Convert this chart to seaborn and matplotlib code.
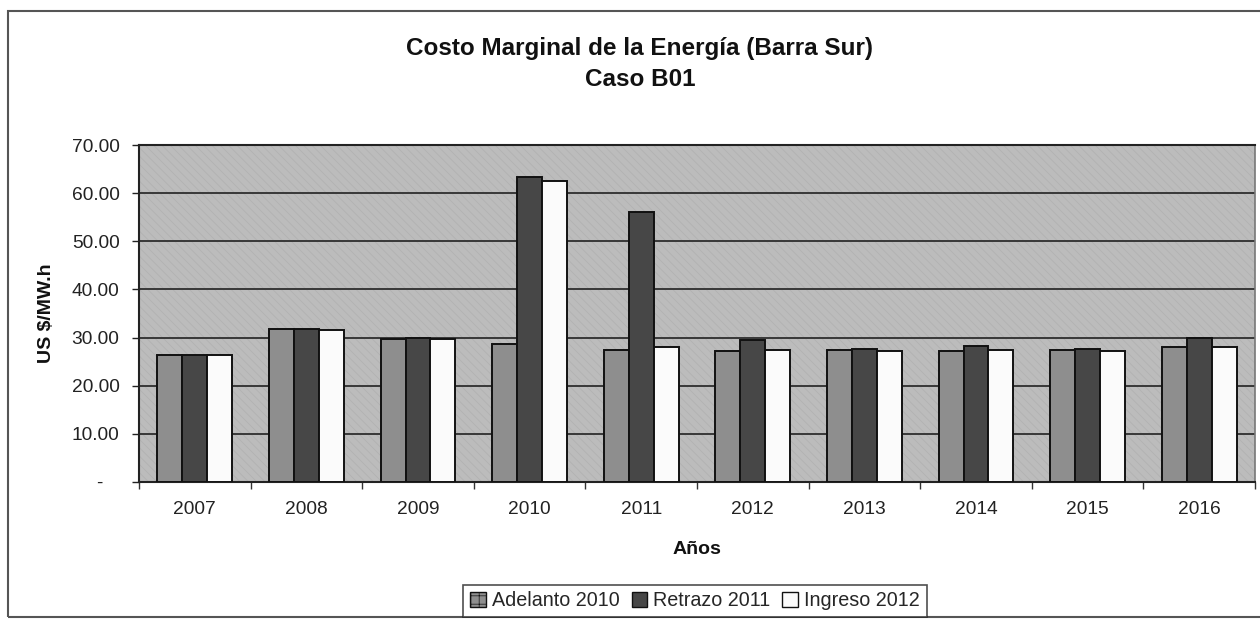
import matplotlib
matplotlib.use("Agg")
import matplotlib.pyplot as plt
import matplotlib.patches as mpatches
import seaborn as sns
import pandas as pd
import numpy as np

# Marginal cost of energy (US $/MW.h), south busbar, case B01
years = ["2007", "2008", "2009", "2010", "2011", "2012", "2013", "2014", "2015", "2016"]
adelanto_2010 = [26.4, 31.7, 29.6, 28.6, 27.4, 27.2, 27.4, 27.3, 27.4, 28.1]
retrazo_2011 = [26.4, 31.7, 30.0, 63.3, 56.0, 29.5, 27.7, 28.3, 27.7, 30.0]
ingreso_2012 = [26.3, 31.6, 29.7, 62.5, 28.1, 27.4, 27.3, 27.4, 27.3, 28.0]
series_names = ["Adelanto 2010", "Retrazo 2011", "Ingreso 2012"]
y_ticks = [0, 10, 20, 30, 40, 50, 60, 70]
y_tick_labels = ["-   ", "10.00", "20.00", "30.00", "40.00", "50.00", "60.00", "70.00"]

df = pd.DataFrame({
    "Año": years * 3,
    "Serie": [series_names[0]] * len(years) + [series_names[1]] * len(years) + [series_names[2]] * len(years),
    "Valor": adelanto_2010 + retrazo_2011 + ingreso_2012,
})

sns.set_theme(style="white")
plt.rcParams["font.family"] = ["Liberation Sans", "DejaVu Sans"]
plt.rcParams["hatch.linewidth"] = 0.5

palette = {series_names[0]: "#8e8e8e", series_names[1]: "#474747", series_names[2]: "#fbfbfb"}

fig = plt.figure(figsize=(12.6, 6.2), dpi=100)
fig.patch.set_facecolor("white")
W, H = 1260, 620

ax = fig.add_axes([139 / W, 1 - 482 / H, (1255 - 139) / W, (482 - 145) / H])
ax.set_facecolor("#bcbcbc")

# textured plot background
bg = mpatches.Rectangle((0, 0), 1, 1, transform=ax.transAxes, facecolor="#bcbcbc",
                        edgecolor="#b0b0b0", hatch="\\\\\\\\", linewidth=0, zorder=0)
ax.add_patch(bg)

sns.barplot(data=df, x="Año", y="Valor", hue="Serie", palette=palette, width=0.67,
            edgecolor="#111111", linewidth=1.4, saturation=1, ax=ax, zorder=3, legend=False)

ax.set_ylim(0, 70)
ax.set_xlim(-0.5, len(years) - 0.5)
ax.set_yticks(y_ticks)
ax.set_yticklabels(y_tick_labels)
ax.yaxis.grid(True, color="#2e2e2e", linewidth=1.3, zorder=1)
ax.set_axisbelow(True)

ax.set_xticks(range(len(years)))
ax.set_xticklabels(years)
ax.set_xticks(np.arange(-0.5, len(years), 1.0), minor=True)
ax.tick_params(axis="x", which="major", length=0, pad=14, labelsize=13.8, colors="#222222")
ax.tick_params(axis="x", which="minor", length=5, width=1, direction="out", color="#333333", bottom=True)
ax.tick_params(axis="y", length=5, width=1, direction="out", pad=9, labelsize=13.8,
               colors="#222222", left=True)

for side in ["left", "bottom", "top"]:
    ax.spines[side].set_color("#222222")
    ax.spines[side].set_linewidth(1.5)
ax.spines["right"].set_color("#777777")
ax.spines["right"].set_linewidth(1.2)

ax.set_xlabel("Años", fontsize=14, fontweight="bold", labelpad=16, color="#111111")
ax.set_ylabel("US $/MW.h", fontsize=14, fontweight="bold", labelpad=12, color="#111111")

fig.text(640 / W, 1 - 49 / H, "Costo Marginal de la Energía (Barra Sur)", ha="center", va="center",
         fontsize=17.5, fontweight="bold", color="#111111")
fig.text(640 / W, 1 - 79 / H, "Caso B01", ha="center", va="center",
         fontsize=17.5, fontweight="bold", color="#111111")

handles = [mpatches.Patch(facecolor=palette[s], edgecolor="#111111", linewidth=1.0,
                          hatch="++" if i == 0 else None) for i, s in enumerate(series_names)]
leg = fig.legend(handles, series_names, loc="center", bbox_to_anchor=(695 / W, 1 - 601 / H),
                 ncol=3, frameon=True, fontsize=14.2, handlelength=0.8, handleheight=0.8,
                 handletextpad=0.3, columnspacing=0.6, borderpad=0.35, fancybox=False)
leg.get_frame().set_edgecolor("#222222")
leg.get_frame().set_linewidth(1.2)

# outer chart frame
frame = mpatches.Rectangle((8 / W, 1 - 617 / H), (1270 - 8) / W, (617 - 11) / H,
                           transform=fig.transFigure, fill=False, edgecolor="#555555",
                           linewidth=1.5, zorder=0)
fig.patches.append(frame)

fig.savefig("out.png", dpi=100, facecolor="white")
